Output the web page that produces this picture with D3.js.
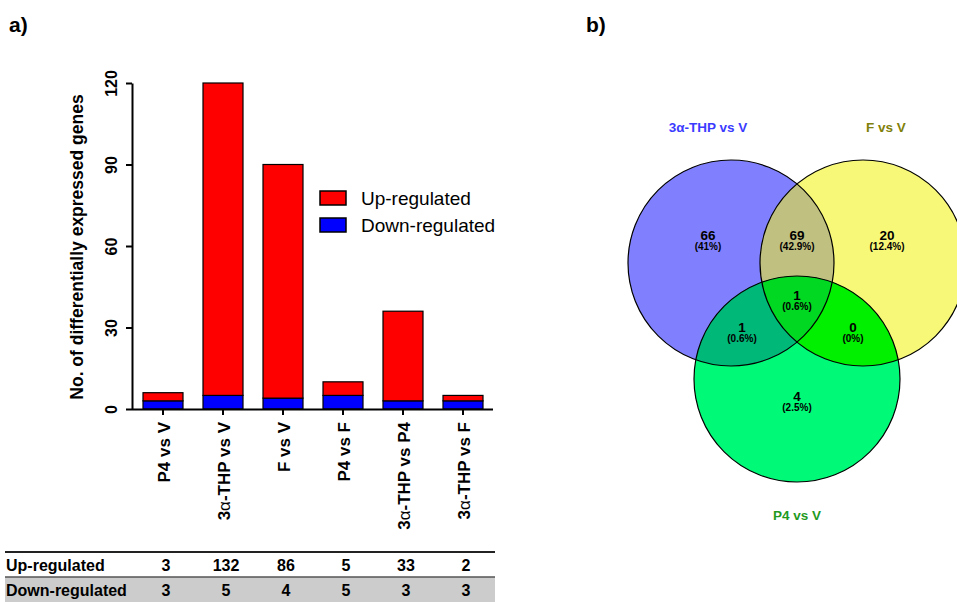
<!DOCTYPE html>
<html>
<head>
<meta charset="utf-8">
<script src="https://cdn.jsdelivr.net/npm/d3@7/dist/d3.min.js"></script>
<style>
  html, body { margin: 0; padding: 0; background: #fff; }
  svg { display: block; font-family: "Liberation Sans", Arial, sans-serif; }
</style>
</head>
<body>
<svg id="chart" width="957" height="602"></svg>
<script>
// ---- Panel a) data: differentially expressed genes per comparison ----
const categories = ["P4 vs V", "3α-THP vs V", "F vs V", "P4 vs F", "3α-THP vs P4", "3α-THP vs F"];
const upRegulated = [3, 132, 86, 5, 33, 2];
const downRegulated = [3, 5, 4, 5, 3, 3];
const yTicks = [0, 30, 60, 90, 120];
const seriesNames = ["Down-regulated", "Up-regulated"];
const seriesColors = { "Up-regulated": "#ff0000", "Down-regulated": "#0000ff" };

// ---- Panel b) data: Venn diagram of the three comparisons ----
const vennSets = ["3α-THP vs V", "F vs V", "P4 vs V"];
const vennSetColors = ["#8080ff", "#f8f878", "#00fa78"];
const vennTitleColors = ["#3b3bff", "#80800a", "#1f9a1f"];
// regions: A only, A∩B only, B only, A∩B∩C, A∩C only, B∩C only, C only
const vennRegions = ["A", "AB", "B", "ABC", "AC", "BC", "C"];
const vennCounts = [66, 69, 20, 1, 1, 0, 4];
const vennRegionColors = ["#8080ff", "#c0c080", "#f8f878", "#00d822", "#00b878", "#00f000", "#00fa78"];

const svg = d3.select("#chart");

// ================= Panel a) stacked bars =================
svg.append("text").attr("x", 9).attr("y", 32)
  .attr("font-size", 21).attr("font-weight", "bold").text("a)");

const x0 = 132, yTop = 83, yBase = 409;
const x = d3.scaleBand().domain(categories).range([133, 493])
  .paddingInner(1 / 3).paddingOuter(1 / 6);
const y = d3.scaleLinear().domain([0, 120]).range([yBase, yTop]).clamp(true);

const tableRows = categories.map((c, i) => ({
  category: c, "Up-regulated": upRegulated[i], "Down-regulated": downRegulated[i]
}));
const stacked = d3.stack().keys(seriesNames)(tableRows);

const barG = svg.append("g");
stacked.forEach(layer => {
  barG.append("g").selectAll("rect").data(layer).join("rect")
    .attr("x", d => x(d.data.category))
    .attr("width", x.bandwidth())
    .attr("y", d => y(d[1]))
    .attr("height", d => y(d[0]) - y(d[1]))
    .attr("fill", seriesColors[layer.key])
    .attr("stroke", "#000").attr("stroke-width", 1.2);
});

// y axis
const yAxis = svg.append("g").attr("transform", `translate(${x0},0)`)
  .call(d3.axisLeft(y).tickValues(yTicks).tickSize(6).tickSizeOuter(0));
yAxis.select(".domain").attr("stroke-width", 2);
yAxis.selectAll(".tick line").attr("stroke-width", 2);
yAxis.selectAll(".tick text")
  .attr("x", null).attr("dy", null)
  .attr("transform", "translate(-15,0) rotate(-90)")
  .attr("text-anchor", "middle")
  .attr("font-size", 16).attr("font-weight", "bold").attr("fill", "#000")
  .attr("font-family", "Liberation Sans, Arial, sans-serif");

// x axis
const xAxis = svg.append("g").attr("transform", `translate(0,${yBase})`)
  .call(d3.axisBottom(x).tickSize(6).tickSizeOuter(0));
xAxis.select(".domain").attr("d", `M${x0},0.5H493`).attr("stroke-width", 2);
xAxis.selectAll(".tick line").attr("stroke-width", 2);
xAxis.selectAll(".tick text").each(function (d) {
  const t = d3.select(this);
  t.text(null)
    .attr("y", null).attr("dy", null)
    .attr("transform", "translate(6.5,13) rotate(-90)")
    .attr("text-anchor", "end")
    .attr("font-size", 17).attr("font-weight", "bold").attr("fill", "#000")
    .attr("font-family", "Liberation Sans, Arial, sans-serif");
  const parts = d.split("α");
  if (parts.length > 1) {
    t.append("tspan").text(parts[0]);
    t.append("tspan").attr("font-weight", "normal").text("α");
    t.append("tspan").text(parts[1]);
  } else {
    t.text(d);
  }
});

// y axis title
svg.append("text")
  .attr("transform", `translate(83,${(yTop + yBase) / 2 + 1}) rotate(-90)`)
  .attr("text-anchor", "middle")
  .attr("font-size", 17.5).attr("font-weight", "bold")
  .text("No. of differentially expressed genes");

// legend
const legend = svg.append("g").attr("transform", "translate(320,191)");
["Up-regulated", "Down-regulated"].forEach((k, i) => {
  const g = legend.append("g").attr("transform", `translate(0,${i * 27})`);
  g.append("rect").attr("width", 26).attr("height", 14)
    .attr("fill", seriesColors[k]).attr("stroke", "#000").attr("stroke-width", 1.5);
  g.append("text").attr("x", 41).attr("y", 7).attr("dy", "0.35em")
    .attr("font-size", 19).text(k);
});

// table of counts under the bars
const table = svg.append("g");
table.append("rect").attr("x", 5).attr("y", 577).attr("width", 490).attr("height", 25)
  .attr("fill", "#cccccc");
table.append("line").attr("x1", 5).attr("x2", 495).attr("y1", 552).attr("y2", 552)
  .attr("stroke", "#222").attr("stroke-width", 2);
table.append("line").attr("x1", 5).attr("x2", 495).attr("y1", 577).attr("y2", 577)
  .attr("stroke", "#555").attr("stroke-width", 1.5);
const tableData = [
  { name: "Up-regulated", values: upRegulated, yc: 565 },
  { name: "Down-regulated", values: downRegulated, yc: 590 }
];
tableData.forEach(row => {
  table.append("text").attr("x", 6).attr("y", row.yc).attr("dy", "0.35em")
    .attr("font-size", 16).attr("font-weight", "bold").text(row.name);
  table.append("g").selectAll("text").data(row.values).join("text")
    .attr("x", (v, i) => x(categories[i]) + x.bandwidth() / 2 + 3)
    .attr("y", row.yc).attr("dy", "0.35em")
    .attr("text-anchor", "middle")
    .attr("font-size", 16).attr("font-weight", "bold").text(v => v);
});

// ================= Panel b) Venn diagram =================
svg.append("text").attr("x", 586).attr("y", 32)
  .attr("font-size", 21).attr("font-weight", "bold").text("b)");

const R = 103;
const centers = [[731, 263], [863, 263], [797, 379]];
const defs = svg.append("defs");
centers.forEach((c, i) => {
  defs.append("clipPath").attr("id", "clip" + i)
    .append("circle").attr("cx", c[0]).attr("cy", c[1]).attr("r", R);
});
const venn = svg.append("g");
const regionColor = k => vennRegionColors[vennRegions.indexOf(k)];

// single sets
["A", "B", "C"].forEach((k, i) => {
  venn.append("circle").attr("cx", centers[i][0]).attr("cy", centers[i][1]).attr("r", R)
    .attr("fill", regionColor(k));
});
// pairwise overlaps: circle j clipped by circle i
[["AB", 0, 1], ["AC", 0, 2], ["BC", 1, 2]].forEach(([k, i, j]) => {
  venn.append("g").attr("clip-path", `url(#clip${i})`)
    .append("circle").attr("cx", centers[j][0]).attr("cy", centers[j][1]).attr("r", R)
    .attr("fill", regionColor(k));
});
// triple overlap
venn.append("g").attr("clip-path", "url(#clip0)")
  .append("g").attr("clip-path", "url(#clip1)")
  .append("circle").attr("cx", centers[2][0]).attr("cy", centers[2][1]).attr("r", R)
  .attr("fill", regionColor("ABC"));
// outlines
centers.forEach(c => {
  venn.append("circle").attr("cx", c[0]).attr("cy", c[1]).attr("r", R)
    .attr("fill", "none").attr("stroke", "#000").attr("stroke-width", 1.2);
});

// region labels
const total = d3.sum(vennCounts);
const labelPos = {
  A: [708, 235], AB: [797, 235], B: [887, 235],
  ABC: [797, 295], AC: [742, 327], BC: [853, 327], C: [797, 396]
};
vennRegions.forEach((k, i) => {
  const [lx, ly] = labelPos[k];
  const pct = +(vennCounts[i] / total * 100).toFixed(1);
  venn.append("text").attr("x", lx).attr("y", ly).attr("dy", "0.35em")
    .attr("text-anchor", "middle").attr("font-size", 13.5).attr("font-weight", "bold")
    .text(vennCounts[i]);
  venn.append("text").attr("x", lx).attr("y", ly + 11.5).attr("dy", "0.35em")
    .attr("text-anchor", "middle").attr("font-size", 10).attr("font-weight", "bold")
    .text(`(${pct}%)`);
});

// set titles
const titlePos = [[708, 127], [886, 127], [797, 515]];
vennSets.forEach((s, i) => {
  svg.append("text").attr("x", titlePos[i][0]).attr("y", titlePos[i][1]).attr("dy", "0.35em")
    .attr("text-anchor", "middle").attr("font-size", 13.5).attr("font-weight", "bold")
    .attr("fill", vennTitleColors[i]).text(s);
});
</script>
</body>
</html>
